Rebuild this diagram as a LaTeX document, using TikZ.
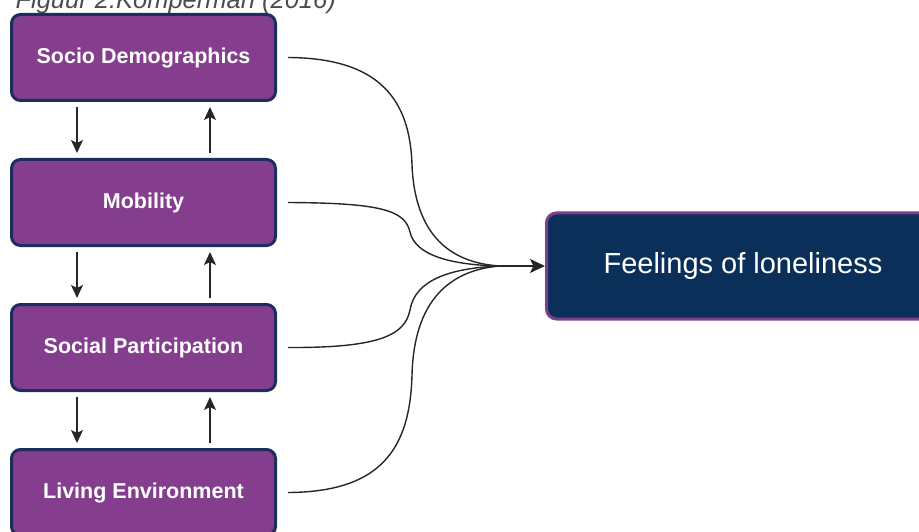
\documentclass[tikz,border=0pt]{standalone}
\usepackage{fontspec}
\setmainfont{Liberation Sans}
\usetikzlibrary{arrows.meta}
\definecolor{boxpurple}{RGB}{132,62,141}
\definecolor{boxnavy}{RGB}{28,46,92}
\definecolor{feelfill}{RGB}{10,48,90}
\definecolor{feelborder}{RGB}{125,62,140}
\begin{document}
\begin{tikzpicture}[x=1pt,y=-1pt,
  factor/.style={draw=boxnavy, fill=boxpurple, line width=3pt, rounded corners=9pt,
    minimum width=264pt, minimum height=86pt, inner sep=0pt, text=white,
    font=\fontsize{21.5}{24}\selectfont\bfseries},
  outcome/.style={draw=feelborder, fill=feelfill, line width=3pt, rounded corners=10pt,
    minimum width=393pt, minimum height=106pt, inner sep=0pt, text=white,
    font=\fontsize{29}{32}\selectfont},
  vlink/.style={line width=1.5pt, black!85, shorten <=5pt, shorten >=5pt,
    -{Stealth[length=13pt,width=12pt,inset=3pt]}},
  flow/.style={line width=1.4pt, black!85}
]
\useasboundingbox (0,0) rectangle (919,532);
\clip (0,0) rectangle (919,532);

\node[anchor=base west, text=black!70, font=\fontsize{25.5}{28}\selectfont\itshape] (title) at (12,9) {Figuur 2:Komperman (2016)};

\node[factor] (soc) at (143.5,57.5) {Socio Demographics};
\node[factor] (mob) at (143.5,202.5) {Mobility};
\node[factor] (par) at (143.5,347.5) {Social Participation};
\node[factor] (env) at (143.5,492.5) {Living Environment};

\node[outcome] (feel) at (743,266) {Feelings of loneliness};

% vertical links
\draw[vlink] ([xshift=-66.5pt]soc.south) -- ([xshift=-66.5pt]mob.north);
\draw[vlink] ([xshift=66.5pt]mob.north) -- ([xshift=66.5pt]soc.south);
\draw[vlink] ([xshift=-66.5pt]mob.south) -- ([xshift=-66.5pt]par.north);
\draw[vlink] ([xshift=66.5pt]par.north) -- ([xshift=66.5pt]mob.south);
\draw[vlink] ([xshift=-66.5pt]par.south) -- ([xshift=-66.5pt]env.north);
\draw[vlink] ([xshift=66.5pt]env.north) -- ([xshift=66.5pt]par.south);

% converging curves
\coordinate (m) at (500,266);
\coordinate (s1) at ([xshift=11pt]soc.east);
\coordinate (s2) at ([xshift=11pt]mob.east);
\coordinate (s3) at ([xshift=11pt]par.east);
\coordinate (s4) at ([xshift=11pt]env.east);
\draw[flow] (s1) .. controls (380,58) and (410,100) .. (412,165)
               .. controls (415,235) and (450,263) .. (m);
\draw[flow] (s2) .. controls (380,203) and (405,210) .. (410,232)
               .. controls (415,255) and (450,265) .. (m);
\draw[flow] (s3) .. controls (380,348) and (405,335) .. (410,310)
               .. controls (415,280) and (450,268) .. (m);
\draw[flow] (s4) .. controls (380,492) and (410,450) .. (412,375)
               .. controls (414,300) and (450,270) .. (m);
\draw[flow, -{Stealth[length=15pt,width=14pt,inset=3.5pt]}] (m) -- (feel.west);
\end{tikzpicture}
\end{document}
